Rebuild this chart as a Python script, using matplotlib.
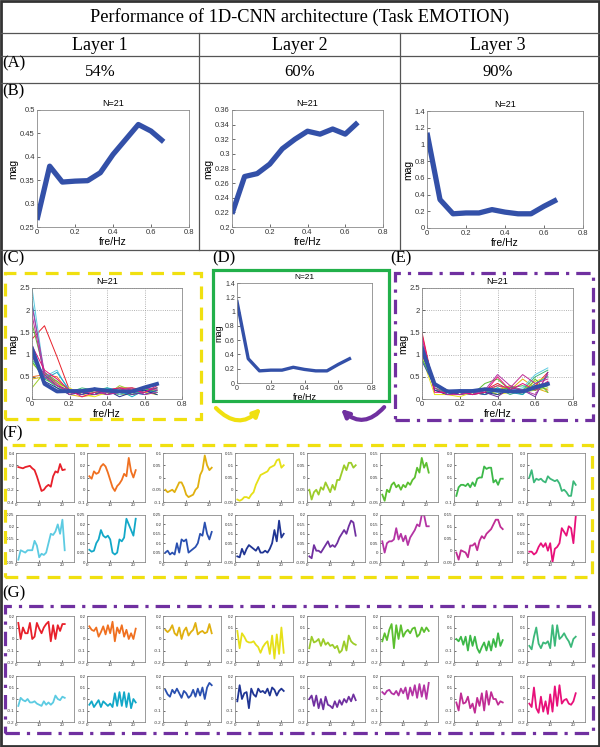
import numpy as np
import matplotlib
matplotlib.use("Agg")
import matplotlib.pyplot as plt
from matplotlib.lines import Line2D
from matplotlib.patches import Rectangle, FancyArrowPatch
from matplotlib.ticker import FuncFormatter

# ---------------- data ----------------
freq = [0, 1/15, 2/15, 3/15, 4/15, 5/15, 6/15, 7/15, 8/15, 9/15, 10/15]
layers = ["Layer 1", "Layer 2", "Layer 3"]
accuracy = ["54%", "60%", "90%"]

mag_layer1 = [0.265, 0.380, 0.346, 0.348, 0.349, 0.366, 0.405, 0.437, 0.469, 0.455, 0.432]
mag_layer2 = [0.218, 0.269, 0.273, 0.286, 0.307, 0.320, 0.331, 0.327, 0.334, 0.327, 0.343]
mag_layer3 = [1.14, 0.34, 0.17, 0.18, 0.18, 0.22, 0.19, 0.17, 0.17, 0.26, 0.34]

filter_colors = ['#e8202a', '#f07020', '#e0b010', '#e6e018', '#9ccc2a', '#5cbf30',
                 '#3cb848', '#3cb87a', '#5ccbe2', '#12a8c8', '#2a50b0', '#203594',
                 '#7030a0', '#b434a4', '#c02c94', '#e8107a']

spec_C = [
    [1.35, 1.65, 0.95, 0.20, 0.15, 0.10, 0.20, 0.25, 0.25, 0.20, 0.25],
    [0.50, 0.55, 0.50, 0.15, 0.10, 0.15, 0.10, 0.20, 0.25, 0.15, 0.20],
    [0.45, 0.50, 0.40, 0.10, 0.05, 0.10, 0.15, 0.10, 0.10, 0.15, 0.10],
    [0.80, 0.55, 0.35, 0.25, 0.10, 0.05, 0.15, 0.20, 0.10, 0.15, 0.20],
    [0.25, 0.60, 0.30, 0.15, 0.20, 0.15, 0.10, 0.30, 0.20, 0.10, 0.15],
    [1.70, 0.60, 0.40, 0.20, 0.10, 0.20, 0.15, 0.25, 0.10, 0.20, 0.10],
    [0.85, 0.45, 0.30, 0.10, 0.20, 0.15, 0.20, 0.10, 0.20, 0.25, 0.15],
    [0.90, 0.50, 0.25, 0.15, 0.25, 0.20, 0.25, 0.15, 0.10, 0.20, 0.25],
    [2.50, 0.50, 0.65, 0.15, 0.10, 0.25, 0.20, 0.10, 0.15, 0.10, 0.20],
    [2.20, 0.45, 0.60, 0.20, 0.15, 0.10, 0.25, 0.20, 0.05, 0.20, 0.15],
    [1.00, 0.35, 0.20, 0.15, 0.10, 0.20, 0.10, 0.15, 0.15, 0.10, 0.20],
    [1.10, 0.40, 0.25, 0.10, 0.15, 0.10, 0.20, 0.05, 0.15, 0.20, 0.10],
    [0.95, 0.55, 0.30, 0.20, 0.10, 0.25, 0.10, 0.20, 0.10, 0.15, 0.25],
    [2.10, 0.60, 0.35, 0.10, 0.20, 0.10, 0.15, 0.20, 0.25, 0.10, 0.15],
    [1.90, 0.50, 0.30, 0.15, 0.15, 0.20, 0.10, 0.15, 0.20, 0.25, 0.20],
    [1.20, 0.65, 0.45, 0.20, 0.05, 0.15, 0.20, 0.25, 0.20, 0.15, 0.30],
]

spec_E = [
    [1.50, 0.20, 0.10, 0.15, 0.10, 0.20, 0.35, 0.20, 0.15, 0.30, 0.60],
    [1.20, 0.30, 0.15, 0.10, 0.15, 0.10, 0.20, 0.30, 0.15, 0.35, 0.20],
    [1.10, 0.35, 0.20, 0.15, 0.10, 0.15, 0.30, 0.20, 0.45, 0.25, 0.15],
    [0.95, 0.10, 0.10, 0.05, 0.15, 0.25, 0.10, 0.15, 0.20, 0.40, 0.50],
    [1.00, 0.30, 0.20, 0.10, 0.15, 0.20, 0.10, 0.30, 0.15, 0.20, 0.25],
    [1.15, 0.25, 0.15, 0.20, 0.10, 0.35, 0.45, 0.20, 0.10, 0.45, 0.15],
    [0.90, 0.35, 0.10, 0.15, 0.20, 0.10, 0.20, 0.25, 0.30, 0.20, 0.30],
    [1.05, 0.20, 0.15, 0.10, 0.20, 0.15, 0.25, 0.10, 0.20, 0.50, 0.65],
    [1.30, 0.30, 0.20, 0.15, 0.10, 0.20, 0.15, 0.20, 0.25, 0.55, 0.70],
    [1.25, 0.25, 0.10, 0.20, 0.15, 0.10, 0.25, 0.15, 0.10, 0.35, 0.50],
    [0.85, 0.30, 0.20, 0.10, 0.15, 0.10, 0.20, 0.15, 0.20, 0.25, 0.30],
    [1.10, 0.20, 0.10, 0.15, 0.10, 0.15, 0.10, 0.20, 0.15, 0.30, 0.35],
    [1.00, 0.35, 0.15, 0.10, 0.20, 0.15, 0.05, 0.25, 0.20, 0.05, 0.60],
    [1.35, 0.30, 0.20, 0.15, 0.10, 0.20, 0.55, 0.30, 0.20, 0.10, 0.55],
    [1.20, 0.25, 0.10, 0.10, 0.15, 0.20, 0.30, 0.25, 0.55, 0.35, 0.45],
    [1.45, 0.15, 0.15, 0.20, 0.10, 0.15, 0.50, 0.20, 0.35, 0.20, 0.40],
]

taps = list(range(1, 22))

filters_F = [
    [0.17, 0.16, 0.15, 0.17, 0.18, 0.19, 0.15, 0.12, 0.02, -0.10, -0.22, -0.20, -0.15, -0.12, -0.15, 0.02, 0.10, 0.08, 0.22, 0.12, 0.13],
    [0.11, 0.09, 0.15, 0.13, 0.14, 0.19, 0.21, 0.19, 0.14, 0.08, 0.02, -0.01, 0.03, 0.05, 0.08, 0.13, 0.11, 0.26, 0.15, 0.10, 0.16],
    [-0.05, -0.06, -0.055, -0.05, -0.06, -0.04, -0.02, -0.02, -0.04, -0.07, -0.08, -0.075, -0.07, -0.05, -0.04, 0.01, 0.03, 0.09, 0.05, 0.03, 0.04],
    [-0.04, -0.045, -0.04, -0.03, -0.03, -0.035, -0.02, -0.01, 0.02, 0.04, 0.06, 0.065, 0.07, 0.075, 0.09, 0.095, 0.10, 0.12, 0.125, 0.09, 0.10],
    [-0.05, -0.09, -0.06, -0.05, -0.07, -0.04, -0.05, -0.02, -0.04, -0.06, -0.03, -0.05, -0.01, -0.01, 0.02, 0.05, 0.03, 0.06, 0.06, 0.04, 0.05],
    [-0.02, -0.045, 0.00, -0.01, 0.02, 0.03, 0.01, 0.02, 0.00, 0.02, 0.01, 0.03, 0.02, 0.04, 0.05, 0.09, 0.07, 0.13, 0.09, 0.11, 0.07],
    [-0.05, 0.02, 0.04, 0.04, 0.03, 0.05, 0.02, 0.06, 0.03, 0.09, 0.10, 0.10, 0.19, 0.17, 0.18, 0.18, 0.06, 0.08, 0.04, 0.09, 0.09],
    [0.10, 0.16, 0.06, 0.09, 0.08, 0.09, 0.07, 0.06, 0.11, 0.09, 0.08, 0.07, 0.08, 0.05, -0.01, 0.00, -0.02, -0.05, -0.05, 0.07, 0.04],
    [0.06, 0.10, 0.095, 0.09, 0.10, 0.10, 0.10, 0.14, 0.12, 0.07, 0.085, 0.08, 0.09, 0.13, 0.17, 0.165, 0.18, 0.21, 0.17, 0.23, 0.10],
    [0.065, 0.055, 0.06, 0.10, 0.12, 0.17, 0.14, 0.13, 0.14, 0.12, 0.05, 0.04, 0.05, 0.12, 0.11, 0.13, 0.23, 0.20, 0.17, 0.14, 0.23],
    [0.05, 0.06, 0.04, 0.05, 0.04, 0.10, 0.05, 0.12, 0.11, 0.12, 0.05, 0.06, 0.07, 0.08, 0.10, 0.15, 0.14, 0.21, 0.15, 0.12, 0.16],
    [-0.02, -0.025, 0.02, -0.01, 0.02, 0.04, 0.03, 0.02, 0.01, 0.03, 0.00, 0.00, 0.01, 0.00, 0.02, 0.05, 0.12, 0.06, 0.17, 0.08, 0.10],
    [-0.02, -0.03, 0.04, 0.01, 0.01, 0.00, 0.02, 0.04, 0.06, 0.03, 0.04, 0.03, 0.05, 0.08, 0.10, 0.12, 0.10, 0.14, 0.17, 0.16, 0.09],
    [0.06, 0.00, 0.05, 0.06, 0.06, 0.07, 0.13, 0.07, 0.10, 0.06, 0.09, 0.04, 0.08, 0.10, 0.12, 0.15, 0.14, 0.20, 0.20, 0.14, 0.14],
    [-0.01, -0.04, 0.00, -0.005, -0.01, -0.03, 0.02, 0.02, 0.03, 0.00, 0.04, 0.06, 0.05, 0.07, 0.08, 0.09, 0.11, 0.13, 0.13, 0.10, 0.09],
    [0.055, 0.055, 0.04, 0.05, 0.08, 0.10, 0.08, 0.10, 0.06, 0.10, 0.00, 0.07, 0.08, 0.10, 0.18, 0.16, 0.14, 0.19, 0.18, 0.10, 0.24],
]
ylims_F = [(-0.4, 0.4), (-0.1, 0.3), (-0.1, 0.1), (-0.05, 0.15),
           (-0.1, 0.1), (-0.05, 0.15), (-0.1, 0.3), (-0.1, 0.3),
           (0.05, 0.25), (0.0, 0.25), (0.0, 0.25), (-0.05, 0.2),
           (-0.05, 0.2), (-0.05, 0.2), (-0.05, 0.15), (0.0, 0.25)]
ystep_F = [0.2, 0.1, 0.05, 0.05, 0.05, 0.05, 0.1, 0.1,
           0.05, 0.05, 0.05, 0.05, 0.05, 0.05, 0.05, 0.05]

filters_G = [
    [0.14, 0.00, 0.10, 0.05, 0.05, 0.14, 0.00, 0.02, 0.14, 0.09, 0.05, 0.10, 0.13, 0.15, -0.02, 0.12, 0.00, 0.12, 0.07, 0.13, 0.13],
    [0.11, 0.08, 0.07, 0.10, 0.02, 0.06, 0.11, 0.04, 0.12, 0.05, 0.15, -0.02, 0.10, 0.05, 0.12, 0.02, 0.08, 0.00, 0.05, 0.00, 0.09],
    [0.08, 0.06, 0.08, 0.12, 0.05, 0.03, 0.10, 0.00, 0.07, 0.10, 0.03, 0.06, 0.08, 0.14, 0.04, 0.06, 0.07, 0.05, 0.06, 0.13, 0.05],
    [0.07, -0.08, 0.05, 0.02, -0.02, -0.03, -0.03, -0.02, -0.05, -0.07, -0.12, -0.07, -0.04, -0.02, -0.13, 0.03, -0.17, 0.04, -0.13, 0.10, -0.12],
    [-0.08, 0.02, -0.03, -0.02, 0.00, -0.06, 0.00, -0.05, -0.03, -0.06, -0.05, -0.08, -0.06, -0.12, -0.10, -0.02, -0.10, 0.03, -0.02, -0.04, -0.05],
    [-0.02, 0.05, -0.01, 0.08, 0.13, -0.08, 0.12, 0.00, 0.12, 0.02, 0.06, 0.08, 0.05, 0.09, 0.10, 0.02, 0.04, 0.10, 0.06, 0.10, 0.07],
    [0.00, -0.02, 0.02, -0.05, 0.02, -0.10, 0.03, -0.06, 0.02, -0.08, -0.12, -0.07, -0.03, -0.10, -0.02, -0.10, 0.00, -0.07, 0.05, -0.06, -0.01],
    [-0.06, -0.09, 0.02, 0.10, -0.04, -0.08, -0.03, -0.04, -0.02, -0.08, 0.12, -0.06, 0.12, 0.00, 0.02, 0.05, 0.01, -0.02, -0.07, 0.00, 0.02],
    [-0.06, 0.01, -0.01, -0.02, 0.00, -0.03, -0.03, -0.02, -0.04, -0.05, -0.06, -0.02, -0.05, -0.03, -0.05, -0.03, 0.03, 0.00, -0.01, 0.02, 0.01],
    [-0.05, -0.02, -0.07, -0.04, -0.01, -0.07, -0.02, -0.04, -0.06, -0.04, -0.07, 0.05, -0.06, 0.06, -0.06, 0.06, -0.07, 0.05, -0.08, 0.00, -0.03],
    [0.08, 0.04, 0.02, 0.08, 0.05, 0.09, 0.05, 0.01, 0.07, 0.05, 0.01, 0.03, 0.08, 0.02, 0.09, 0.03, 0.10, 0.00, 0.10, 0.14, 0.12],
    [-0.02, 0.12, 0.00, 0.05, 0.06, -0.08, 0.09, 0.04, 0.02, 0.09, 0.06, 0.07, 0.05, 0.09, 0.03, 0.10, 0.08, 0.03, 0.07, 0.09, 0.07],
    [0.00, 0.03, -0.06, 0.03, -0.08, 0.00, -0.09, 0.02, -0.05, -0.06, -0.08, -0.02, -0.07, -0.01, -0.05, 0.00, -0.03, 0.02, -0.02, 0.04, -0.01],
    [0.06, 0.04, 0.07, 0.08, 0.05, 0.04, 0.07, 0.03, 0.09, 0.05, 0.10, 0.00, 0.10, 0.03, 0.12, 0.01, 0.13, 0.02, 0.12, 0.00, 0.14],
    [-0.03, -0.10, 0.05, -0.04, -0.03, 0.02, -0.08, -0.04, -0.12, 0.01, -0.06, 0.05, -0.10, 0.07, -0.05, 0.06, 0.00, 0.00, -0.05, -0.02, -0.03],
    [-0.04, -0.07, 0.10, -0.08, -0.12, 0.02, -0.11, -0.02, -0.13, 0.04, -0.11, 0.11, -0.06, 0.12, -0.04, -0.01, 0.00, -0.04, -0.05, -0.02, 0.05],
]

# ---------------- figure ----------------
W, H = 600, 747
fig = plt.figure(figsize=(6, 7.47), dpi=100)
fig.patch.set_facecolor('white')
SANS = ['Liberation Sans', 'DejaVu Sans']
SERIF = ['Liberation Serif', 'DejaVu Serif']
THICK_BLUE = '#3350a8'
fmt = FuncFormatter(lambda v, p: '%g' % round(v, 6))


def add_ax(l, t, r, b):
    return fig.add_axes([l / W, 1 - b / H, (r - l) / W, (b - t) / H])


def fline(x0, y0, x1, y1, **kw):
    fig.add_artist(Line2D([x0 / W, x1 / W], [1 - y0 / H, 1 - y1 / H],
                          transform=fig.transFigure, **kw))


def frect(l, t, r, b, **kw):
    fig.add_artist(Rectangle((l / W, 1 - b / H), (r - l) / W, (b - t) / H,
                             transform=fig.transFigure, fill=False, **kw))


def ftext(x, y, s, **kw):
    fig.text(x / W, 1 - y / H, s, **kw)


def style_ax(ax, fs):
    for sp in ax.spines.values():
        sp.set_color('#8a8a8a')
        sp.set_linewidth(0.6)
    ax.tick_params(direction='in', length=2, width=0.5, labelsize=fs,
                   colors='#333333', pad=1.5)
    for lab in ax.get_xticklabels() + ax.get_yticklabels():
        lab.set_family(SANS)
    ax.xaxis.set_major_formatter(fmt)
    ax.yaxis.set_major_formatter(fmt)


def spec_ax(ax, ylim, ystep, fs=5.5, lfs=7.5, tfs=6.5):
    ax.set_xlim(0, 0.8)
    ax.set_xticks(np.arange(0, 0.81, 0.2))
    ax.set_ylim(*ylim)
    ax.set_yticks(np.arange(ylim[0], ylim[1] + 1e-9, ystep))
    style_ax(ax, fs)
    ax.set_xlabel('fre/Hz', fontsize=lfs, family=SANS, labelpad=0.5)
    ax.set_ylabel('mag', fontsize=lfs, family=SANS, labelpad=1)
    ax.set_title('N=21', fontsize=tfs, family=SANS, pad=3)


# ---- table frame ----
frect(1, 1, 599, 746, edgecolor='#333333', linewidth=2.0)
for yy in [33, 56, 83, 250]:
    fline(1, yy, 599, yy, color='#555555', linewidth=0.9)
for xx in [199, 400]:
    fline(xx, 33, xx, 250, color='#555555', linewidth=0.9)

ftext(300, 17, 'Performance of 1D-CNN architecture (Task EMOTION)',
      fontsize=13.2, family=SERIF, ha='center', va='center')
for i, (lay, acc) in enumerate(zip(layers, accuracy)):
    cx = [100, 300, 498][i]
    ftext(cx, 45, lay, fontsize=13, family=SERIF, ha='center', va='center')
    ftext(cx, 72, acc, fontsize=12, family=SERIF, ha='center', va='center')
for lab, x, y in [('(A)', 2, 63), ('(B)', 2, 91), ('(C)', 2, 258), ('(D)', 212, 258),
                  ('(E)', 390, 258), ('(F)', 2, 433), ('(G)', 2, 593)]:
    ftext(x, y, lab, fontsize=12, family=SERIF, ha='left', va='center')

# ---- row B ----
b_boxes = [(37, 110, 189, 227), (232, 110, 383, 227), (427, 111, 583, 228)]
b_data = [mag_layer1, mag_layer2, mag_layer3]
b_ylims = [((0.25, 0.5), 0.05), ((0.2, 0.36), 0.02), ((0, 1.4), 0.2)]
for box, d, (yl, st) in zip(b_boxes, b_data, b_ylims):
    ax = add_ax(*box)
    ax.plot(freq, d, color=THICK_BLUE, linewidth=3.8, solid_capstyle='butt')
    spec_ax(ax, yl, st)

# ---- row C / D / E ----
frect(5, 273, 201, 419, edgecolor='#f0e010', linewidth=2.3,
      linestyle=(0, (4, 2.6)))
frect(213, 270, 389, 401, edgecolor='#22b04a', linewidth=2.3)
frect(395, 273, 593, 420, edgecolor='#7030a0', linewidth=2.3,
      linestyle=(0, (4.5, 2.2, 1, 2.2)))

axC = add_ax(32, 288, 182, 399)
for c, d in zip(filter_colors, spec_C):
    axC.plot(freq, d, color=c, linewidth=0.7)
axC.plot(freq, mag_layer3, color=THICK_BLUE, linewidth=2.8)
spec_ax(axC, (0, 2.5), 0.5, fs=5.5, lfs=7.5, tfs=6.5)
axC.grid(True, linestyle=':', color='#999999', linewidth=0.6)

axD = add_ax(237, 283, 372, 383)
axD.plot(freq, mag_layer3, color=THICK_BLUE, linewidth=2.4)
spec_ax(axD, (0, 1.4), 0.2, fs=5, lfs=6.5, tfs=6)

axE = add_ax(422, 288, 573, 399)
for c, d in zip(filter_colors, spec_E):
    axE.plot(freq, d, color=c, linewidth=0.7)
axE.plot(freq, mag_layer3, color=THICK_BLUE, linewidth=2.8)
spec_ax(axE, (0, 2.5), 0.5, fs=5.5, lfs=7.5, tfs=6.5)
axE.grid(True, linestyle=':', color='#999999', linewidth=0.6)

# arrows
fig.add_artist(FancyArrowPatch((214 / W, 1 - 406 / H), (263 / W, 1 - 406 / H),
                               transform=fig.transFigure,
                               connectionstyle='arc3,rad=0.55',
                               arrowstyle='-|>', mutation_scale=11,
                               color='#f0e010', linewidth=3))
fig.add_artist(FancyArrowPatch((386 / W, 1 - 405 / H), (339 / W, 1 - 407 / H),
                               transform=fig.transFigure,
                               connectionstyle='arc3,rad=-0.55',
                               arrowstyle='-|>', mutation_scale=11,
                               color='#7030a0', linewidth=3))

# ---- rows F and G ----
frect(5, 445, 592, 577, edgecolor='#f0e010', linewidth=2.3,
      linestyle=(0, (4, 2.6)))
frect(5, 606, 593, 733, edgecolor='#7030a0', linewidth=2.3,
      linestyle=(0, (4.5, 2.2, 1, 2.2)))

col_left = [16, 87, 163, 235, 307, 380, 454, 527]
col_w = 58
F_rows = [(453, 502), (515, 562)]
G_rows = [(616, 662), (676, 722)]


def filt_ax(box, data, color, ylim, ystep):
    ax = add_ax(*box)
    ax.plot(taps, data, color=color, linewidth=1.3)
    ax.set_xlim(0, 25)
    ax.set_xticks([0, 10, 20])
    ax.set_ylim(*ylim)
    ax.set_yticks(np.arange(ylim[0], ylim[1] + 1e-9, ystep))
    style_ax(ax, 3.2)
    ax.tick_params(length=1.2, pad=1)


for k in range(16):
    r, c = divmod(k, 8)
    t, b = F_rows[r]
    filt_ax((col_left[c], t, col_left[c] + col_w, b), filters_F[k],
            filter_colors[k], ylims_F[k], ystep_F[k])
    t, b = G_rows[r]
    filt_ax((col_left[c], t, col_left[c] + col_w, b), filters_G[k],
            filter_colors[k], (-0.2, 0.2), 0.1)

fig.savefig('out.png', dpi=100)
